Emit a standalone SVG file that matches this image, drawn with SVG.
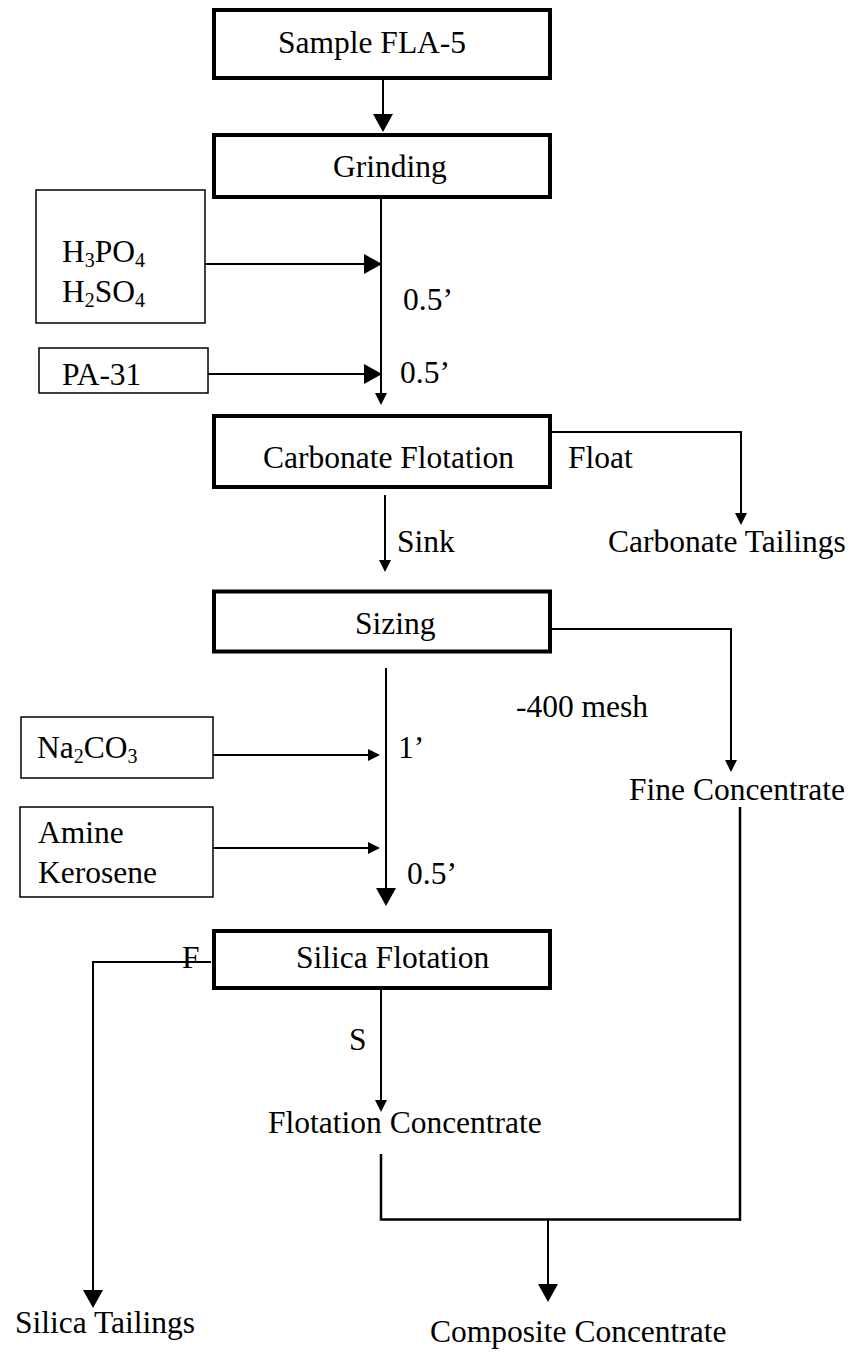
<svg xmlns="http://www.w3.org/2000/svg" width="855" height="1352" viewBox="0 0 855 1352">
<style>
text{font-family:"Liberation Serif","Times New Roman",serif;font-size:31.5px;fill:#000}
.sub{font-size:20px}
.main{fill:#fff;stroke:#000;stroke-width:4}
.reag{fill:#fff;stroke:#000;stroke-width:1.5}
.c{fill:none;stroke:#000;stroke-width:2}
.big{marker-end:url(#ab)}
.sm{marker-end:url(#as)}
</style>
<defs>
<marker id="ab" markerUnits="userSpaceOnUse" viewBox="0 -10 18 20" refX="0" refY="0" markerWidth="18" markerHeight="20" orient="auto" overflow="visible"><path d="M0,-10 L18,0 L0,10 z" fill="#000"/></marker>
<marker id="as" markerUnits="userSpaceOnUse" viewBox="0 -6 12 12" refX="0" refY="0" markerWidth="12" markerHeight="12" orient="auto" overflow="visible"><path d="M0,-6 L12,0 L0,6 z" fill="#000"/></marker>
</defs>
<g id="connectors">
<path class="c big" d="M383,80 V114"/>
<path class="c sm" d="M381,199 V393"/>
<path class="c big" d="M205,264 H364"/>
<path class="c big" d="M208,374 H364"/>
<path class="c sm" d="M385,495 V560"/>
<path class="c sm" d="M552,432 H741 V513"/>
<path class="c sm" d="M540,629 H731 V760"/>
<path class="c big" d="M386,668 V888"/>
<path class="c sm" d="M213,755 H368"/>
<path class="c sm" d="M213,848 H368"/>
<path class="c big" d="M211,962 H93 V1290"/>
<path class="c sm" d="M381,986 V1100"/>
<path class="c" d="M381,1154 V1219.5 H740" style="stroke-width:2.5"/>
<path class="c" d="M740,807 V1221" style="stroke-width:2.5"/>
<path class="c big" d="M548,1219 V1284"/>
</g>
<g id="sample"><rect class="main" x="214" y="10" width="336" height="68"/><text x="278" y="53">Sample FLA-5</text></g>
<g id="grinding"><rect class="main" x="214" y="135" width="336" height="62"/><text x="333" y="177">Grinding</text></g>
<g id="acids"><rect class="reag" x="36" y="190" width="169" height="133"/><text x="62" y="262">H<tspan class="sub" dy="5">3</tspan><tspan dy="-5">PO</tspan><tspan class="sub" dy="5">4</tspan></text><text x="62" y="302">H<tspan class="sub" dy="5">2</tspan><tspan dy="-5">SO</tspan><tspan class="sub" dy="5">4</tspan></text></g>
<g id="pa31"><rect class="reag" x="39" y="348" width="169" height="45"/><text x="62" y="385">PA-31</text></g>
<g id="carbflot"><rect class="main" x="214" y="416" width="336" height="71"/><text x="263" y="468">Carbonate Flotation</text></g>
<g id="carbtail"><text x="608" y="552">Carbonate Tailings</text></g>
<g id="sizing"><rect class="main" x="214" y="591.5" width="336" height="60"/><text x="355" y="634">Sizing</text></g>
<g id="na2co3"><rect class="reag" x="21" y="717" width="192" height="61"/><text x="37" y="758">Na<tspan class="sub" dy="5">2</tspan><tspan dy="-5">CO</tspan><tspan class="sub" dy="5">3</tspan></text></g>
<g id="amine"><rect class="reag" x="20" y="807" width="193" height="90"/><text x="38" y="843">Amine</text><text x="38" y="883">Kerosene</text></g>
<g id="fineconc"><text x="629" y="800">Fine Concentrate</text></g>
<g id="silflot"><rect class="main" x="214" y="931" width="336" height="57"/><text x="296" y="968">Silica Flotation</text></g>
<g id="flotconc"><text x="268" y="1133">Flotation Concentrate</text></g>
<g id="siltail"><text x="15" y="1333">Silica Tailings</text></g>
<g id="compconc"><text x="430" y="1342">Composite Concentrate</text></g>
<g id="labels">
<text x="403" y="310">0.5’</text>
<text x="400" y="383">0.5’</text>
<text x="568" y="468">Float</text>
<text x="397" y="552">Sink</text>
<text x="516" y="717">-400 mesh</text>
<text x="398" y="758">1’</text>
<text x="407" y="884">0.5’</text>
<text x="182" y="968">F</text>
<text x="349" y="1050">S</text>
</g>
</svg>
